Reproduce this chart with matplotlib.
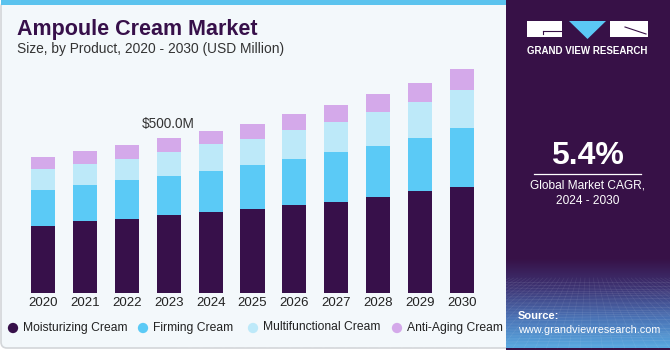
import matplotlib
matplotlib.use("Agg")
import matplotlib.pyplot as plt
import numpy as np
from matplotlib.patches import Rectangle, Polygon, FancyBboxPatch
from matplotlib.colors import LinearSegmentedColormap

plt.rcParams['font.family'] = ['Liberation Sans', 'DejaVu Sans']

years = ["2020", "2021", "2022", "2023", "2024", "2025", "2026", "2027", "2028", "2029", "2030"]
moisturizing = [217.8, 231.8, 239.3, 251.1, 261.8, 272.5, 284.3, 295.0, 311.2, 330.5, 343.3]
firming = [114.8, 117.0, 124.5, 127.7, 132.0, 139.5, 147.0, 158.8, 162.0, 169.5, 188.8]
multifunctional = [67.6, 68.7, 69.7, 77.3, 85.8, 84.8, 93.4, 97.6, 110.5, 117.0, 122.3]
anti_aging = [37.6, 40.8, 42.9, 44.0, 44.0, 49.4, 52.6, 54.7, 57.9, 60.1, 66.5]
series_names = ["Moisturizing Cream", "Firming Cream", "Multifunctional Cream", "Anti-Aging Cream"]
colors = ["#37104A", "#5BCAF6", "#BDE9F9", "#D4A9EA"]
annot_label = "$500.0M"
annot_index = 3

W, H = 671, 350
fig = plt.figure(figsize=(W / 100, H / 100), dpi=100)
fig.patch.set_facecolor("white")

def px(x, y, w, h):
    return [x / W, 1 - (y + h) / H, w / W, h / H]

bg = fig.add_axes([0, 0, 1, 1], zorder=0)
bg.set_xlim(0, W); bg.set_ylim(H, 0); bg.axis("off")
bg.add_patch(FancyBboxPatch((1, 1), 515, 347, boxstyle="round,pad=0,rounding_size=6",
                            facecolor="#F3F8FB", edgecolor="#D3D6D9", linewidth=1.2))
bg.add_patch(Rectangle((1, 0), 505, 5, facecolor="#5BC3EE", edgecolor="none"))
bg.add_patch(Rectangle((506, 0), 165, 350, facecolor="#371147", edgecolor="none"))

grad = np.linspace(0, 1, 100)[:, None]
cmap = LinearSegmentedColormap.from_list("g", ["#371147", "#3E3575", "#4A72B5", "#58A8E0"])
bg.imshow(grad, extent=(506, 671, 348, 258), cmap=cmap, aspect="auto", zorder=1)
for i in range(22):
    yy = 282 + i * 3.0
    if yy < 348:
        bg.plot([506, 671], [yy, yy + 2 * np.sin(i * 0.9)], color="white", alpha=0.10, lw=0.5, zorder=2)
for j in range(-25, 45):
    x0 = 506 + j * 7
    bg.plot([588 + (x0 - 588) * 0.6, 588 + (x0 - 588) * 1.6], [278, 348], color="white",
            alpha=0.08, lw=0.5, zorder=2)
bg.add_patch(Rectangle((670, 0), 1, 350, facecolor="white", edgecolor="none", zorder=3))

# logo
bg.add_patch(Rectangle((527, 21), 35, 15.5, facecolor="white", edgecolor="none", zorder=3))
bg.add_patch(Rectangle((610, 21), 37.5, 15.5, facecolor="white", edgecolor="none", zorder=3))
bg.add_patch(Polygon([[569, 21], [606, 21], [587.5, 39]], closed=True, facecolor="#5BC8F5",
                     edgecolor="none", zorder=3))
bg.plot([543, 562], [31, 31], color="#371147", lw=0.8, zorder=4)
bg.plot([543, 543], [31, 34], color="#371147", lw=0.8, zorder=4)
bg.plot([625, 646], [27, 34], color="#371147", lw=0.8, zorder=4)
bg.text(587.5, 51.5, "GRAND VIEW RESEARCH", color="white", fontsize=7.0, fontweight="bold",
        ha="center", va="center", zorder=4)

bg.text(587.5, 156, "5.4%", color="white", fontsize=23, fontweight="bold", ha="center", va="center", zorder=4)
bg.plot([534, 641], [173.5, 173.5], color="white", lw=0.9, zorder=4)
bg.text(587.5, 186, "Global Market CAGR,", color="white", fontsize=8.6, ha="center", va="center", zorder=4)
bg.text(587.5, 201, "2024 - 2030", color="white", fontsize=8.6, ha="center", va="center", zorder=4)
bg.text(518, 316, "Source:", color="white", fontsize=8.0, fontweight="bold", ha="left", va="center", zorder=4)
bg.text(518, 330, "www.grandviewresearch.com", color="white", fontsize=7.8, ha="left", va="center", zorder=4)

# titles
bg.text(17, 29, "Ampoule Cream Market", color="#37104A", fontsize=15.5, fontweight="bold",
        ha="left", va="center")
bg.text(17, 49, "Size, by Product, 2020 - 2030 (USD Million)", color="#333333", fontsize=9.9,
        ha="left", va="center")

# bar chart
step = 41.9
left_px = 43 - 0.5 * step
ax = fig.add_axes(px(left_px, 50, 11 * step, 243.3), zorder=2)
ax.patch.set_alpha(0)
scale = 500 / 155.3
ax.set_xlim(-0.5, 10.5)
ax.set_ylim(0, 243.3 * scale)
x = np.arange(len(years))
bottom = np.zeros(len(years))
for vals, c in zip([moisturizing, firming, multifunctional, anti_aging], colors):
    ax.bar(x, vals, bottom=bottom, width=0.575, color=c, edgecolor="none")
    bottom += np.array(vals)
for s in ax.spines.values():
    s.set_visible(False)
ax.set_yticks([])
ax.set_xticks(x)
ax.set_xticklabels(years, fontsize=9.5, color="#222222")
ax.tick_params(axis="x", length=0, pad=3)
ax.text(x[annot_index], bottom[annot_index] + 23, annot_label, ha="center", va="bottom",
        fontsize=9.8, color="#333333")

# legend (manual placement)
marker_x = [13, 143, 253, 397]
for mx, name, c in zip(marker_x, series_names, colors):
    bg.scatter([mx], [328], s=55, color=c, edgecolor="none", zorder=4)
    bg.text(mx + 10, 327.5, name, fontsize=8.7, color="#222222", ha="left", va="center", zorder=4)

fig.savefig("out.png", dpi=100, facecolor=fig.get_facecolor())
